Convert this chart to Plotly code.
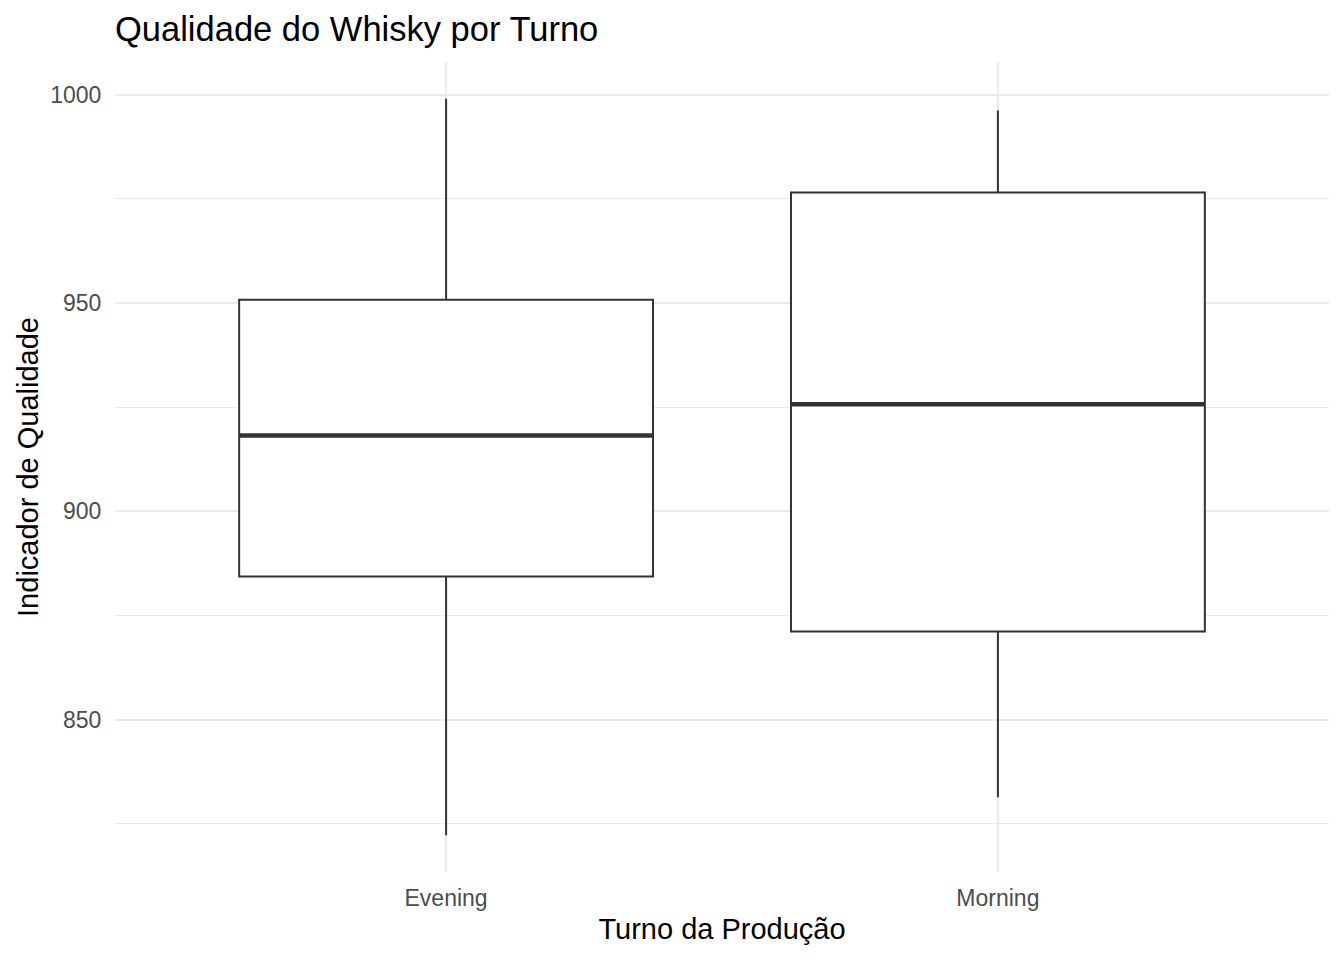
import plotly.graph_objects as go

turnos = ["Evening", "Morning"]
lower_whisker = [822.3, 831.4]
q1_vals = [884.4, 871.2]
median_vals = [918.2, 925.7]
q3_vals = [950.8, 976.5]
upper_whisker = [999.0, 996.2]

title_text = "Qualidade do Whisky por Turno"
x_title = "Turno da Produção"
y_title = "Indicador de Qualidade"

FONT = "Liberation Sans, Arial, sans-serif"
BOX_W = 0.75

fig = go.Figure()
fig.add_trace(go.Box(
    x=turnos,
    q1=q1_vals,
    median=median_vals,
    q3=q3_vals,
    lowerfence=lower_whisker,
    upperfence=upper_whisker,
    width=BOX_W,
    fillcolor="white",
    line=dict(color="#333333", width=2),
    whiskerwidth=0,
    boxpoints=False,
    showlegend=False,
    hoverinfo="skip",
))

# thicker median line (ggplot fatten)
for i, m in enumerate(median_vals):
    fig.add_shape(type="line", xref="x", yref="y",
                  x0=i - BOX_W / 2, x1=i + BOX_W / 2, y0=m, y1=m,
                  line=dict(color="#333333", width=4.5))

lo = min(lower_whisker)
hi = max(upper_whisker)
pad = 0.05 * (hi - lo)

fig.update_layout(
    width=1344, height=960,
    margin=dict(l=115, r=15, t=62, b=88),
    paper_bgcolor="white", plot_bgcolor="white",
    boxgap=0, boxgroupgap=0,
    font=dict(family=FONT, color="#000000"),
    title=dict(text=title_text, x=0, xref="paper", xanchor="left",
               y=1 - 29 / 960, yref="container", yanchor="middle",
               font=dict(size=34.5, color="#000000", family=FONT)),
)
fig.update_xaxes(
    range=[-0.6, 1.6],
    showgrid=True, gridcolor="#EBEBEB", gridwidth=1.5,
    showline=False, zeroline=False,
    ticks="outside", ticklen=5, tickcolor="rgba(0,0,0,0)",
    tickfont=dict(size=23, color="#4D4D4D", family=FONT),
    title=dict(text=x_title, font=dict(size=29, color="#000000", family=FONT), standoff=9),
)
fig.update_yaxes(
    range=[lo - pad, hi + pad],
    tick0=0, dtick=50,
    showgrid=True, gridcolor="#EBEBEB", gridwidth=1.5,
    minor=dict(dtick=25, showgrid=True, gridcolor="#EBEBEB", gridwidth=0.75),
    showline=False, zeroline=False,
    ticks="outside", ticklen=8, tickcolor="rgba(0,0,0,0)",
    tickfont=dict(size=23, color="#4D4D4D", family=FONT),
    title=dict(text=y_title, font=dict(size=29, color="#000000", family=FONT), standoff=3),
)

fig.write_html("out.html")
